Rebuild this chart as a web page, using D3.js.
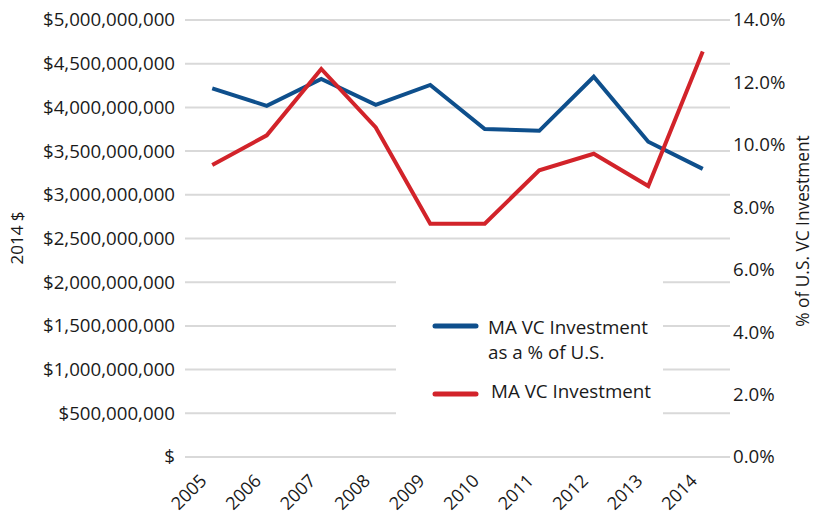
<!DOCTYPE html>
<html lang="en">
<head>
    <meta charset="utf-8" />
    <script src="https://d3js.org/d3.v7.min.js"></script>
    <style>
        body { margin: 0; background: #fff; }
        text { font-family: "Open Sans", sans-serif; fill: #1a1a1a; }
    </style>
</head>
<body>
    <script>
        // Data
        const years = ["2005", "2006", "2007", "2008", "2009", "2010", "2011", "2012", "2013", "2014"];
        const maInvestment = [3.34e9, 3.68e9, 4.44e9, 3.77e9, 2.67e9, 2.67e9, 3.28e9, 3.47e9, 3.10e9, 4.64e9];
        const maShare = [11.81, 11.25, 12.11, 11.28, 11.92, 10.51, 10.45, 12.18, 10.10, 9.23];
        const leftTicks = d3.range(0, 5.5e9, 5e8);
        const rightTicks = [0, 2, 4, 6, 8, 10, 12, 14];

        const width = 814;
        const height = 516;
        const plotLeft = 185, plotRight = 730, plotTop = 20, plotBottom = 457;

        const svg = d3.select("body")
            .append("svg")
            .attr("width", width)
            .attr("height", height);

        const x = d3.scalePoint()
            .domain(years)
            .range([plotLeft, plotRight])
            .padding(0.5);

        const yLeft = d3.scaleLinear()
            .domain([0, 5e9])
            .range([plotBottom, plotTop]);

        const yRight = d3.scaleLinear()
            .domain([0, 14])
            .range([plotBottom, plotTop]);

        // gridlines
        svg.append("g")
            .selectAll("line")
            .data(leftTicks)
            .enter()
            .append("line")
            .attr("x1", plotLeft)
            .attr("x2", plotRight)
            .attr("y1", d => yLeft(d))
            .attr("y2", d => yLeft(d))
            .attr("stroke", "#d9d9d9")
            .attr("stroke-width", 2);

        // left axis
        const fmtMoney = d => d === 0 ? "$" : "$" + d3.format(",")(d);
        const yAxisL = d3.axisLeft(yLeft).tickValues(leftTicks).tickFormat(fmtMoney).tickSize(0).tickPadding(10);
        svg.append("g")
            .attr("transform", `translate(${plotLeft}, 0)`)
            .call(yAxisL)
            .call(g => g.select(".domain").remove())
            .selectAll("text")
            .style("font-size", "18.7px");

        // right axis
        const yAxisR = d3.axisRight(yRight).tickValues(rightTicks).tickFormat(d => d.toFixed(1) + "%").tickSize(0).tickPadding(3);
        svg.append("g")
            .attr("transform", `translate(${plotRight}, 0)`)
            .call(yAxisR)
            .call(g => g.select(".domain").remove())
            .selectAll("text")
            .style("font-size", "18.7px");

        // x axis
        const xAxis = d3.axisBottom(x).tickSize(0).tickPadding(0);
        svg.append("g")
            .attr("transform", `translate(0, ${plotBottom})`)
            .call(xAxis)
            .call(g => g.select(".domain").remove())
            .selectAll("text")
            .style("font-size", "18px")
            .style("text-anchor", "end")
            .attr("dy", null)
            .attr("y", 0)
            .attr("transform", "translate(-5, 25) rotate(-45)");

        // axis titles
        svg.append("text")
            .attr("transform", "translate(23, 238) rotate(-90)")
            .attr("text-anchor", "middle")
            .style("font-size", "17px")
            .text("2014 $");

        svg.append("text")
            .attr("transform", "translate(809, 231) rotate(-90)")
            .attr("text-anchor", "middle")
            .style("font-size", "17.3px")
            .text("% of U.S. VC Investment");

        // lines
        const lineShare = d3.line()
            .x((d, i) => x(years[i]))
            .y(d => yRight(d));

        const lineInv = d3.line()
            .x((d, i) => x(years[i]))
            .y(d => yLeft(d));

        svg.append("path")
            .datum(maShare)
            .attr("d", lineShare)
            .attr("fill", "none")
            .attr("stroke", "#0e4f8c")
            .attr("stroke-width", 4);

        svg.append("path")
            .datum(maInvestment)
            .attr("d", lineInv)
            .attr("fill", "none")
            .attr("stroke", "#d2232a")
            .attr("stroke-width", 4);

        // legend
        const legend = svg.append("g");
        legend.append("rect")
            .attr("x", 396)
            .attr("y", 250)
            .attr("width", 267)
            .attr("height", 180)
            .attr("fill", "#fff");

        legend.append("line")
            .attr("x1", 435).attr("x2", 476)
            .attr("y1", 326).attr("y2", 326)
            .attr("stroke", "#0e4f8c")
            .attr("stroke-width", 5)
            .attr("stroke-linecap", "round");

        legend.append("text")
            .attr("x", 488)
            .attr("y", 334)
            .style("font-size", "18.8px")
            .text("MA VC Investment");

        legend.append("text")
            .attr("x", 488)
            .attr("y", 359)
            .style("font-size", "18.8px")
            .text("as a % of U.S.");

        legend.append("line")
            .attr("x1", 435).attr("x2", 476)
            .attr("y1", 394).attr("y2", 394)
            .attr("stroke", "#d2232a")
            .attr("stroke-width", 5)
            .attr("stroke-linecap", "round");

        legend.append("text")
            .attr("x", 491)
            .attr("y", 398)
            .style("font-size", "18.8px")
            .text("MA VC Investment");
    </script>
</body>
</html>
